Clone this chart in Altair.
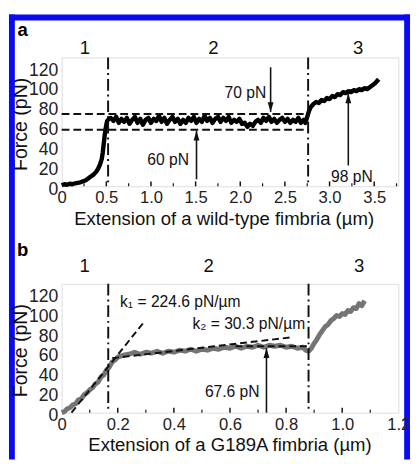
import altair as alt
import pandas as pd

# ---------------- Panel a (wild-type) ----------------
a_curve = [
    (0.00, 1), (0.03, 2), (0.06, 1.5), (0.09, 2.5), (0.12, 2), (0.15, 3), (0.18, 3.5),
    (0.21, 4), (0.24, 5), (0.27, 6), (0.30, 8), (0.33, 10), (0.36, 12), (0.39, 15),
    (0.41, 18), (0.43, 22), (0.45, 28), (0.46, 34), (0.47, 42), (0.48, 50), (0.49, 57),
    (0.50, 62), (0.51, 66), (0.53, 68),
    (0.55, 69), (0.58, 66), (0.61, 70), (0.64, 64), (0.67, 68), (0.70, 65), (0.73, 69),
    (0.76, 63), (0.79, 67), (0.82, 70), (0.85, 64), (0.88, 68), (0.91, 62), (0.94, 67),
    (0.97, 69), (1.00, 64), (1.03, 68), (1.06, 66), (1.09, 71), (1.12, 65), (1.15, 69),
    (1.18, 63), (1.21, 67), (1.24, 70), (1.27, 65), (1.30, 68), (1.33, 63), (1.36, 67),
    (1.39, 64), (1.42, 69), (1.45, 66), (1.48, 70), (1.51, 64), (1.54, 68), (1.57, 65),
    (1.60, 71), (1.63, 66), (1.66, 69), (1.69, 64), (1.72, 68), (1.75, 70), (1.78, 65),
    (1.81, 69), (1.84, 66), (1.87, 70), (1.90, 64), (1.93, 67), (1.96, 65), (1.99, 68),
    (2.02, 63), (2.05, 64), (2.08, 60), (2.11, 63), (2.14, 61), (2.17, 65), (2.20, 67),
    (2.23, 64), (2.26, 69), (2.29, 66), (2.32, 70), (2.35, 65), (2.38, 68), (2.41, 64),
    (2.44, 67), (2.47, 69), (2.50, 65), (2.53, 68), (2.56, 64), (2.59, 67), (2.62, 65),
    (2.65, 69), (2.68, 64), (2.71, 67),
    (2.73, 64), (2.75, 70), (2.77, 76), (2.79, 80), (2.82, 83), (2.85, 85), (2.88, 84),
    (2.91, 87), (2.94, 86), (2.97, 89), (3.00, 88), (3.03, 91), (3.06, 90), (3.09, 93),
    (3.12, 92), (3.15, 95), (3.18, 94), (3.21, 96), (3.24, 95), (3.27, 97), (3.30, 96),
    (3.33, 98), (3.36, 97), (3.39, 99), (3.42, 98), (3.45, 100), (3.48, 102), (3.51, 104),
    (3.53, 106), (3.55, 108),
]
a_hlines = [57, 73]          # dashed horizontal levels
a_hline_end = 2.76
a_vlines = [0.52, 2.76]      # dash-dot boundaries
a_region_x = [0.26, 1.70, 3.32]
a_region_lab = ["1", "2", "3"]
a_arrows = [  # x, start, tip, direction
    (2.34, 120, 75, "down"),
    (1.51, 7, 56, "up"),
    (3.21, 21, 93.6, "up"),
]
a_text_right = [(2.29, 94.5, "70 pN"), (1.425, 26.6, "60 pN")]
a_text_center = [(3.25, 9, "98 pN")]
a_xticks = [0, 0.5, 1.0, 1.5, 2.0, 2.5, 3.0, 3.5]
a_minor = [0.25, 0.75, 1.25, 1.75, 2.25, 2.75, 3.25, 3.75]

# ---------------- Panel b (G189A) ----------------
b_curve = [
    (0.00, 0), (0.01, 1), (0.02, 4), (0.03, 5), (0.04, 8), (0.05, 9), (0.06, 13),
    (0.07, 14), (0.08, 18), (0.09, 20), (0.10, 23), (0.11, 25), (0.12, 29), (0.13, 31),
    (0.14, 36), (0.15, 38), (0.16, 43), (0.17, 46), (0.18, 51), (0.19, 53), (0.20, 56),
    (0.21, 57), (0.22, 58),
    (0.24, 59), (0.26, 61), (0.28, 59), (0.30, 61), (0.32, 60), (0.34, 62), (0.36, 60),
    (0.38, 62), (0.40, 61), (0.42, 63), (0.44, 62), (0.46, 64), (0.48, 62), (0.50, 64),
    (0.52, 63), (0.54, 65), (0.56, 64), (0.58, 66), (0.60, 65), (0.62, 67), (0.64, 65),
    (0.66, 67), (0.68, 66), (0.70, 68), (0.72, 66), (0.74, 68), (0.76, 67), (0.78, 68),
    (0.80, 66), (0.82, 67), (0.84, 65), (0.86, 66), (0.87, 63), (0.88, 62),
    (0.89, 65), (0.90, 70), (0.91, 74), (0.92, 79), (0.93, 83), (0.94, 87), (0.95, 89),
    (0.96, 93), (0.97, 95), (0.98, 98), (0.99, 97), (1.00, 100), (1.01, 99), (1.02, 103),
    (1.03, 102), (1.04, 106), (1.05, 105), (1.06, 110), (1.07, 108), (1.08, 113),
]
b_k1 = [(0.035, 0), (0.295, 92)]
b_k2 = [(0.18, 55), (0.82, 76)]
b_hseg = [(0.62, 67), (0.885, 67)]
b_vlines = [0.166, 0.88]
b_region_x = [0.082, 0.524, 1.06]
b_region_lab = ["1", "2", "3"]
b_arrows = [(0.73, 0, 65, "up")]
b_text_left = [(0.208, 112, "k\u2081 = 224.6 pN/\u00b5m")]
b_text_right = [(0.868, 89.6, "k\u2082 = 30.3 pN/\u00b5m")]
b_text_center = [(0.608, 20.7, "67.6 pN")]
b_xticks = [0, 0.2, 0.4, 0.6, 0.8, 1.0, 1.2]
b_minor = [0.1, 0.3, 0.5, 0.7, 0.9, 1.1]

y_ticks = [0, 20, 40, 60, 80, 100, 120]

W, H = 345, 132
FONT = "Liberation Sans"
INK = "#111111"
BLUE = "#0a0af5"
DOWN = "M-0.6,-1L0.6,-1L0,1Z"
UP = "M-0.6,1L0.6,1L0,-1Z"
ZERO_LABEL = "\u00a0\u00a00"


def panel(curve, color, sw, xdom, xticks, minor, xtitle, title_x, vlines,
          region_x, region_lab, region_y, letter, letter_y, arrows, texts,
          extra_layers_fn, border=False):
    xs = alt.Scale(domain=xdom, nice=False, zero=False)
    ys = alt.Scale(domain=[0, 130], nice=False, zero=False)
    xaxis = alt.Axis(values=xticks,
                     labelExpr="datum.value == 0 ? '" + ZERO_LABEL + "' : format(datum.value, '.1f')",
                     ticks=False, tickSize=0, domain=False, grid=False, labelFontSize=17,
                     labelPadding=4, labelColor="#222", labelOverlap=False, labelFlush=False,
                     titleFontSize=19, titleFontWeight="normal", titleColor="#111",
                     titleY=39, titleBaseline="alphabetic", titleX=title_x)
    yaxis = alt.Axis(values=y_ticks, ticks=False, tickSize=0, domain=False, grid=False,
                     labelFontSize=18, labelPadding=4, labelColor="#222", labelOffset=3,
                     labelOverlap=False, titleFontSize=20, titleFontWeight="normal",
                     titleColor="#111", titleX=-42, titleY=68, titleAngle=270,
                     titleBaseline="middle", titleAlign="center")

    def X(f):
        return alt.X(f, type="quantitative", scale=xs, axis=xaxis, title=xtitle)

    def Y(f):
        return alt.Y(f, type="quantitative", scale=ys, axis=yaxis, title="Force (pN)")

    cdf = pd.DataFrame(curve, columns=["x", "y"])
    layers = [alt.Chart(cdf).mark_line(color=color, strokeWidth=sw, strokeJoin="round")
              .encode(x=X("x"), y=Y("y"), order="x:Q")]
    layers += extra_layers_fn(X, Y)
    vdf = pd.DataFrame({"x": vlines})
    layers.append(alt.Chart(vdf).mark_rule(color=INK, strokeWidth=2, strokeDash=[12, 4, 2, 4])
                  .encode(x=X("x")))
    adf = pd.DataFrame(arrows, columns=["x", "y0", "y1", "dir"])
    layers.append(alt.Chart(adf).mark_rule(color=INK, strokeWidth=1.6)
                  .encode(x=X("x"), y=Y("y0"), y2="y1"))
    up = adf[adf.dir == "up"]
    dn = adf[adf.dir == "down"]
    if len(up):
        layers.append(alt.Chart(up).mark_point(shape=UP, size=100, filled=True, color=INK,
                                               opacity=1, yOffset=5)
                      .encode(x=X("x"), y=Y("y1")))
    if len(dn):
        layers.append(alt.Chart(dn).mark_point(shape=DOWN, size=100, filled=True, color=INK,
                                               opacity=1, yOffset=-5)
                      .encode(x=X("x"), y=Y("y1")))
    for align, rows in texts:
        if rows:
            tdf = pd.DataFrame(rows, columns=["x", "y", "t"])
            layers.append(alt.Chart(tdf).mark_text(align=align, baseline="middle", fontSize=16,
                                                   font=FONT, color="#111")
                          .encode(x=X("x"), y=Y("y"), text="t:N"))
    # inward ticks
    mdf = pd.DataFrame({"x": [v for v in xticks if 0 < v < xdom[1]]})
    layers.append(alt.Chart(mdf).mark_rule(color=INK, strokeWidth=1.5)
                  .encode(x=X("x"), y=alt.value(H), y2=alt.value(H - 5)))
    ndf = pd.DataFrame({"x": [v for v in minor if v < xdom[1]]})
    layers.append(alt.Chart(ndf).mark_rule(color=INK, strokeWidth=1.2)
                  .encode(x=X("x"), y=alt.value(H), y2=alt.value(H - 3)))
    # region labels
    rdf = pd.DataFrame({"x": region_x, "t": region_lab})
    layers.append(alt.Chart(rdf).mark_text(baseline="alphabetic", fontSize=19, font=FONT, color="#111")
                  .encode(x=X("x"), y=alt.value(region_y), text="t:N"))
    ldf = pd.DataFrame({"t": [letter]})
    layers.append(alt.Chart(ldf).mark_text(baseline="middle", align="center", fontSize=19,
                                           fontWeight="bold", font=FONT, color="#000")
                  .encode(x=alt.value(-40), y=alt.value(letter_y), text="t:N"))
    if border:
        # blue frame around the whole figure, drawn as filled bands
        bands = [
            (-54, -48, -44, 412),   # left
            (351, 357, -44, 412),   # right
            (-54, 357, -44, -38),   # top
        ]
        for (bx0, bx1, by0, by1) in bands:
            bdf = pd.DataFrame({"t": ["band"]})
            layers.append(alt.Chart(bdf).mark_rect(color=BLUE, opacity=1)
                          .encode(x=alt.value(bx0), x2=alt.value(bx1),
                                  y=alt.value(by0), y2=alt.value(by1)))
    return alt.layer(*layers).properties(width=W, height=H)


def a_extra(X, Y):
    hdf = pd.DataFrame({"x0": [0.0] * len(a_hlines), "x1": [a_hline_end] * len(a_hlines), "y": a_hlines})
    return [alt.Chart(hdf).mark_rule(color=INK, strokeWidth=2, strokeDash=[8, 4])
            .encode(x=X("x0"), x2="x1", y=Y("y"))]


def b_extra(X, Y):
    out = []
    for seg in (b_k1, b_k2, b_hseg):
        sdf = pd.DataFrame([(seg[0][0], seg[0][1], seg[1][0], seg[1][1])], columns=["x", "y", "x2", "y2"])
        out.append(alt.Chart(sdf).mark_rule(color=INK, strokeWidth=2, strokeDash=[7, 4])
                   .encode(x=X("x"), y=Y("y"), x2="x2", y2="y2"))
    return out


pa = panel(a_curve, "#000000", 4.5, [0, 3.77], a_xticks, a_minor,
           "Extension of a wild-type fimbria (\u00b5m)", 166, a_vlines,
           a_region_x, a_region_lab, -4, "a", -28, a_arrows,
           [("right", a_text_right), ("center", a_text_center)], a_extra, border=True)
pb = panel(b_curve, "#747474", 5, [0, 1.2], b_xticks, b_minor,
           "Extension of a G189A fimbria (\u00b5m)", 172, b_vlines,
           b_region_x, b_region_lab, -12, "b", -35, b_arrows,
           [("left", b_text_left), ("right", b_text_right), ("center", b_text_center)], b_extra)

chart = (alt.vconcat(pa, pb, spacing=100, bounds="flush")
         .properties(padding=0, background="white")
         .configure_view(stroke=INK, strokeWidth=2)
         .configure(font=FONT))

chart.save("out.html", embed_options={"renderer": "svg", "actions": False})
